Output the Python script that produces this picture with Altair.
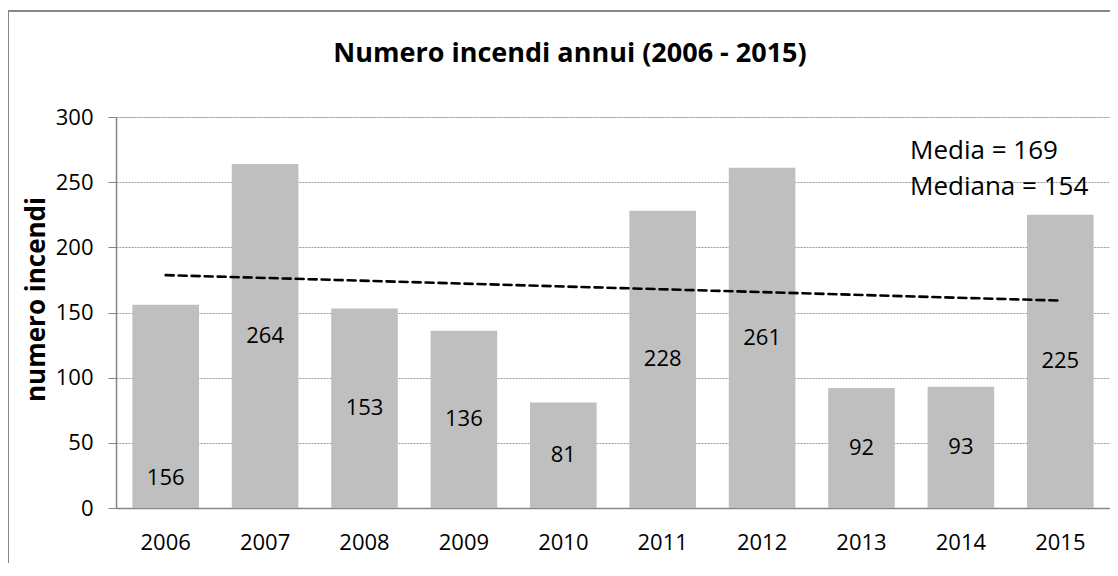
import altair as alt
import pandas as pd

# ---- data ----
years = [2006, 2007, 2008, 2009, 2010, 2011, 2012, 2013, 2014, 2015]
fires = [156, 264, 153, 136, 81, 228, 261, 92, 93, 225]
notes = ["Media = 169", "Mediana = 154"]
y_ticks = [0, 50, 100, 150, 200, 250, 300]
title_text = ["Numero incendi annui (2006 - 2015)"]
y_title = "numero incendi"
# the 2006 label was moved down by hand in the original (value units)
label_override = {2006: 23}

df = pd.DataFrame({"anno": years, "incendi": fires})
df["label_y"] = [label_override.get(a, v / 2) for a, v in zip(years, fires)]

W, H = 994, 391
FONT = "Open Sans"
GRAY = "#868686"

xenc = alt.X(
    "anno:O",
    title=None,
    scale=alt.Scale(paddingInner=0.33, paddingOuter=0.165),
    axis=alt.Axis(
        labelAngle=0, ticks=False, tickSize=0, labelPadding=24,
        labelFont=FONT, labelFontSize=22, labelColor="#000",
        domainColor=GRAY, domainWidth=1.5, grid=False,
    ),
)
yscale = alt.Scale(domain=[0, 300], nice=False)

bars = alt.Chart(df).mark_bar(color="#BFBFBF").encode(
    x=xenc,
    y=alt.Y(
        "incendi:Q",
        scale=yscale,
        title=y_title,
        axis=alt.Axis(
            values=y_ticks, tickSize=8, tickColor=GRAY, labelPadding=15,
            labelFont=FONT, labelFontSize=22, labelColor="#000",
            domainColor=GRAY, domainWidth=1.5,
            grid=True, gridColor="#9a9a9a", gridDash=[2, 1], gridWidth=1,
            titleFont=FONT, titleFontSize=26, titleFontWeight="bold",
            titleColor="#000", titleAngle=270, titleBaseline="alphabetic",
            titleAlign="center", titleX=-72, titleY=182,
        ),
    ),
)

labels = alt.Chart(df).mark_text(
    font=FONT, fontSize=22, color="#000", baseline="middle"
).encode(
    x=alt.X("anno:O"),
    y=alt.Y("label_y:Q", scale=yscale),
    text=alt.Text("incendi:Q"),
)

trend = alt.Chart(df).transform_regression(
    "anno", "incendi", method="linear"
).mark_line(
    color="#000", strokeWidth=2.6, strokeDash=[8, 5], strokeCap="round"
).encode(
    x=alt.X("anno:O"),
    y=alt.Y("incendi:Q", scale=yscale),
)

note_df = pd.DataFrame({"t": notes})
note1 = alt.Chart(note_df.iloc[[0]]).mark_text(
    font=FONT, fontSize=26, color="#000", align="left", baseline="alphabetic"
).encode(x=alt.value(794), y=alt.value(42), text="t:N")
note2 = alt.Chart(note_df.iloc[[1]]).mark_text(
    font=FONT, fontSize=26, color="#000", align="left", baseline="alphabetic"
).encode(x=alt.value(794), y=alt.value(78), text="t:N")

title = alt.Chart(pd.DataFrame({"t": title_text})).mark_text(
    font=FONT, fontSize=27, fontWeight="bold", color="#000",
    align="center", baseline="alphabetic"
).encode(x=alt.value(454), y=alt.value(-55), text="t:N")

edge_df = pd.DataFrame({"k": [0]})
border_top = alt.Chart(edge_df).mark_rule(color=GRAY, strokeWidth=2).encode(
    x=alt.value(-108), x2=alt.value(W + 10), y=alt.value(-106)
)
border_left = alt.Chart(edge_df).mark_rule(color=GRAY, strokeWidth=2).encode(
    x=alt.value(-108), y=alt.value(-106), y2=alt.value(H + 80)
)

chart = alt.layer(
    border_top, border_left, bars, labels, trend, note1, note2, title
).properties(
    width=W,
    height=H,
    padding={"left": 108, "top": 109, "right": 0, "bottom": 55},
    autosize=alt.AutoSizeParams(type="none"),
).configure_view(strokeWidth=0, stroke="transparent").configure(background="white")

chart.save("out.html", embed_options={"renderer": "svg", "actions": False})
